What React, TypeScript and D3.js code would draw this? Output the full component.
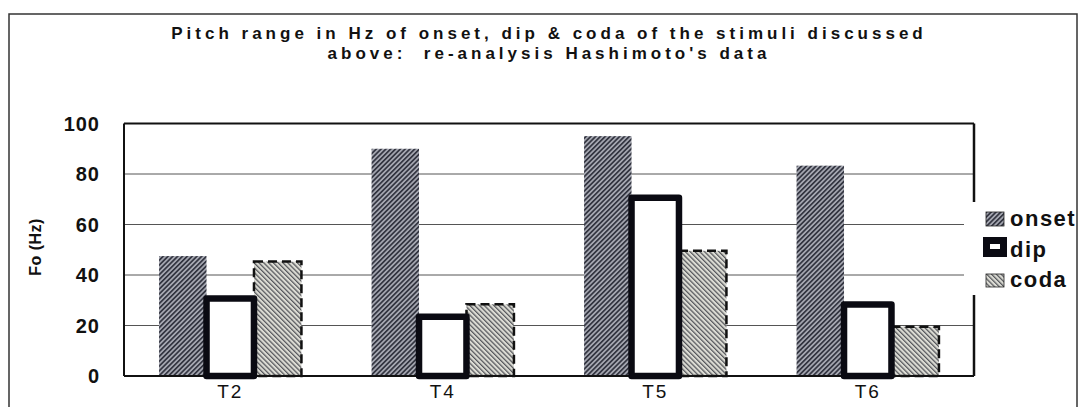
import React from "react";
import * as d3 from "d3";

const categories = ["T2", "T4", "T5", "T6"];
const seriesNames = ["onset", "dip", "coda"];
const onsetValues = [47.5, 90, 95, 83.3];
const dipValues = [30.7, 23.5, 70.6, 28.3];
const codaValues = [45.3, 28.4, 49.6, 19.5];
const yTicks = [0, 20, 40, 60, 80, 100];
const titleLines = [
  "Pitch range in Hz of onset, dip & coda of the stimuli discussed",
  "above:  re-analysis Hashimoto's data",
];
const yLabel = "Fo (Hz)";

const W = 1081;
const H = 407;
const plot = { left: 124, right: 974, top: 123.5, bottom: 376 };
const FONT = "'Liberation Sans', Arial, sans-serif";

export default function App() {
  const y = d3.scaleLinear().domain([0, 100]).range([plot.bottom, plot.top]);
  const x0 = d3
    .scaleBand<string>()
    .domain(categories)
    .range([plot.left, plot.right])
    .paddingInner(0.33)
    .paddingOuter(0.165);
  const x1 = d3.scaleBand<string>().domain(seriesNames).range([0, x0.bandwidth()]);
  const valuesBySeries: Record<string, number[]> = {
    onset: onsetValues,
    dip: dipValues,
    coda: codaValues,
  };

  const bar = (s: string, i: number) => {
    const cx = (x0(categories[i]) as number) + (x1(s) as number);
    const v = valuesBySeries[s][i];
    return { x: cx, y: y(v), w: x1.bandwidth(), h: y(0) - y(v) };
  };

  const legendRows = [
    { name: "onset", base: 226 },
    { name: "dip", base: 257 },
    { name: "coda", base: 287 },
  ];

  return (
    <svg
      width={W}
      height={H}
      style={{ position: "absolute", left: 0, top: 0, background: "#fff" }}
      fontFamily={FONT}
    >
      <defs>
        <pattern id="pOnset" width="3.4" height="3.4" patternUnits="userSpaceOnUse" patternTransform="rotate(45)">
          <rect width="3.4" height="3.4" fill="#a4a6b0" />
          <line x1="0.8" y1="0" x2="0.8" y2="3.4" stroke="#30323e" strokeWidth="1.7" />
        </pattern>
        <pattern id="pCoda" width="3.4" height="3.4" patternUnits="userSpaceOnUse" patternTransform="rotate(-45)">
          <rect width="3.4" height="3.4" fill="#dcdcd4" />
          <line x1="0.6" y1="0" x2="0.6" y2="3.4" stroke="#55565c" strokeWidth="1.3" />
        </pattern>
      </defs>
      <rect x={0} y={0} width={W} height={H} fill="#fff" />
      {/* outer frame */}
      <rect x={9} y={14} width={1068} height={420} fill="none" stroke="#333" strokeWidth={1.5} />

      {/* title */}
      {titleLines.map((t, i) => (
        <text
          key={i}
          x={549}
          y={39 + i * 20}
          textAnchor="middle"
          fontSize={17}
          fontWeight="bold"
          letterSpacing={4}
          fill="#111"
          style={{ whiteSpace: "pre" }}
        >
          {t}
        </text>
      ))}

      {/* gridlines */}
      {yTicks
        .filter((t) => t > 0 && t < 100)
        .map((t) => (
          <line key={t} x1={plot.left} x2={plot.right} y1={y(t)} y2={y(t)} stroke="#555" strokeWidth={1} />
        ))}

      {/* bars: onset, coda, then dip on top */}
      {categories.map((c, i) => {
        const b = bar("onset", i);
        return <rect key={"o" + c} x={b.x} y={b.y} width={b.w} height={b.h} fill="url(#pOnset)" />;
      })}
      {categories.map((c, i) => {
        const b = bar("coda", i);
        return (
          <rect
            key={"c" + c}
            x={b.x}
            y={b.y}
            width={b.w}
            height={b.h}
            fill="url(#pCoda)"
            stroke="#111"
            strokeWidth={2.5}
            strokeDasharray="9 5"
          />
        );
      })}

      {/* axes frame */}
      <line x1={plot.left} x2={plot.right} y1={plot.top} y2={plot.top} stroke="#111" strokeWidth={2} />
      <line x1={plot.left} x2={plot.left} y1={plot.top} y2={plot.bottom} stroke="#111" strokeWidth={2} />
      <line x1={plot.right} x2={plot.right} y1={plot.top} y2={plot.bottom} stroke="#111" strokeWidth={2.5} />
      <line x1={plot.left} x2={plot.right} y1={plot.bottom} y2={plot.bottom} stroke="#111" strokeWidth={2} />

      {categories.map((c, i) => {
        const b = bar("dip", i);
        return (
          <rect
            key={"d" + c}
            x={b.x}
            y={b.y}
            width={b.w}
            height={b.h}
            fill="#fff"
            stroke="#0a0a12"
            strokeWidth={6.5}
            strokeLinejoin="round"
          />
        );
      })}

      {/* y tick labels */}
      {yTicks.map((t) => (
        <text
          key={t}
          x={100}
          y={y(t)}
          dy="0.36em"
          textAnchor="end"
          fontSize={20}
          fontWeight="bold"
          letterSpacing={1}
          fill="#111"
        >
          {t}
        </text>
      ))}

      {/* y axis label */}
      <text
        transform={`translate(41,247) rotate(-90)`}
        textAnchor="middle"
        fontSize={16}
        fontWeight="bold"
        letterSpacing={0.5}
        fill="#111"
      >
        {yLabel}
      </text>

      {/* x labels */}
      {categories.map((c) => (
        <text
          key={c}
          x={(x0(c) as number) + x0.bandwidth() / 2}
          y={398}
          textAnchor="middle"
          fontSize={19}
          letterSpacing={2}
          fill="#111"
        >
          {c}
        </text>
      ))}

      {/* legend */}
      <rect x={964} y={202} width={112} height={93} fill="#fff" />
      {legendRows.map((r) => (
        <g key={r.name}>
          {r.name === "onset" && <rect x={986} y={r.base - 14} width={18} height={14} fill="url(#pOnset)" stroke="#222" strokeWidth={0.8} />}
          {r.name === "dip" && (
            <g>
              <rect x={983} y={r.base - 20} width={24} height={20} fill="#0a0a12" />
              <rect x={990} y={r.base - 13} width={10} height={5} fill="#fff" />
            </g>
          )}
          {r.name === "coda" && <rect x={986} y={r.base - 13} width={18} height={13} fill="url(#pCoda)" stroke="#222" strokeWidth={0.8} />}
          <text x={1010} y={r.base} fontSize={22} fontWeight="bold" letterSpacing={1.5} fill="#111">
            {r.name}
          </text>
        </g>
      ))}
    </svg>
  );
}
